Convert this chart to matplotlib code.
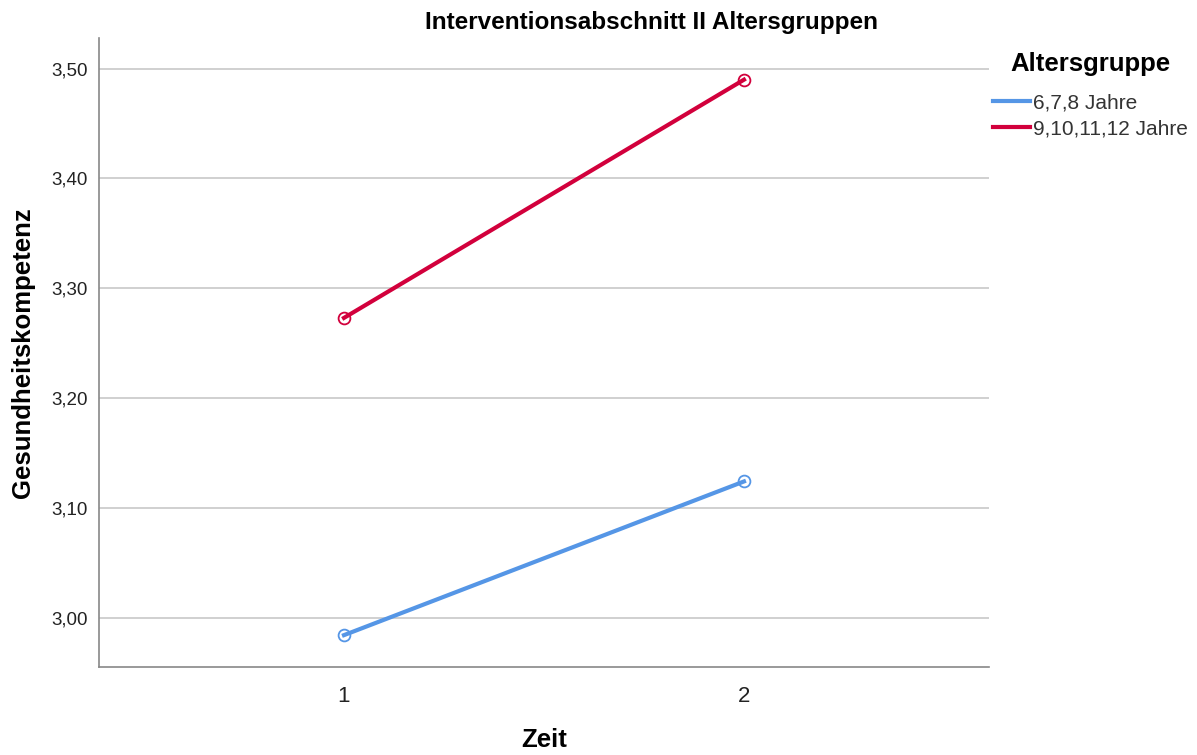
import matplotlib
matplotlib.use("Agg")
import matplotlib.pyplot as plt

plt.rcParams['font.family'] = ['Liberation Sans', 'DejaVu Sans']

zeit = [1, 2]
gruppen = ["6,7,8 Jahre", "9,10,11,12 Jahre"]
werte_jung = [2.984, 3.124]
werte_alt = [3.273, 3.490]
farben = ["#5596E6", "#D2003C"]
yticks = [3.00, 3.10, 3.20, 3.30, 3.40, 3.50]

fig = plt.figure(figsize=(11.97, 7.55), dpi=100)
ax = fig.add_axes([0.0827, 0.1166, 0.7435, 0.8331])

for werte, name, c in zip([werte_jung, werte_alt], gruppen, farben):
    ax.plot(zeit, werte, color=c, lw=3, label=name, zorder=3)
    ax.plot(zeit, werte, ls="none", marker="o", ms=8.5, mfc="none", mec=c, mew=1.3, zorder=4)

ax.set_xlim(0.3875, 2.6125)
ax.set_ylim(2.955, 3.528)
ax.set_yticks(yticks)
ax.set_yticklabels([f"{v:.2f}".replace(".", ",") for v in yticks])
ax.set_xticks(zeit)
ax.set_xticklabels(["1", "2"])
ax.tick_params(axis="y", length=0, labelsize=13.5, pad=8, colors="#222222")
ax.tick_params(axis="x", length=0, labelsize=16, pad=14, colors="#222222")
ax.yaxis.grid(True, color="#C8C8C8", lw=1.2)
ax.set_axisbelow(True)
for s in ["top", "right"]:
    ax.spines[s].set_visible(False)
for s in ["left", "bottom"]:
    ax.spines[s].set_color("#888888")
    ax.spines[s].set_linewidth(1.2)

# Titel ueber Diagramm + Legende zentriert (wie SPSS)
fig.text(0.544, 1 - 22 / 755, "Interventionsabschnitt II Altersgruppen",
         fontsize=17.5, fontweight="bold", ha="center", va="center")
ax.set_ylabel("Gesundheitskompetenz", fontsize=18.5, fontweight="bold", labelpad=12)
ax.set_xlabel("Zeit", fontsize=18.5, fontweight="bold", labelpad=15)

leg = ax.legend(loc="upper left", bbox_to_anchor=(1.0045, 0.977), frameon=False,
                title="Altersgruppe", title_fontproperties={"weight": "bold", "size": 18.5},
                fontsize=15, handlelength=1.8, handletextpad=0.1, labelspacing=0.35,
                borderaxespad=0, borderpad=0, labelcolor="#333333")
leg._legend_box.sep = 12

fig.savefig("out.png", dpi=100)
